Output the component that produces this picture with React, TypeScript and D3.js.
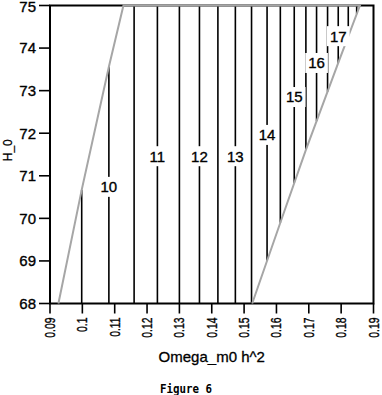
import React, { useEffect, useRef } from 'react';
import * as d3 from 'd3';

// contour positions (Omega_m0 h^2), half-unit steps from 9.5 to 18
const contourX = [0.0998, 0.1082, 0.116, 0.1232, 0.13, 0.1362, 0.1419, 0.1473, 0.1523, 0.1571, 0.1612, 0.1655, 0.1691, 0.1724, 0.1758, 0.1791, 0.1822, 0.1848];
const labelValues = [10, 11, 12, 13, 14, 15, 16, 17];
const labelX = [0.1082, 0.1232, 0.1362, 0.1473, 0.1571, 0.1655, 0.1724, 0.1791];
const labelH = [70.74, 71.46, 71.46, 71.46, 71.96, 72.85, 73.65, 74.28];

// allowed region edges
const leftEdgeX = [0.0926, 0.0998, 0.1082, 0.1127];
const leftEdgeH = [68, 70.67, 73.56, 75];
const rightEdgeX = [0.1525, 0.1613, 0.1691, 0.1791, 0.1858];
const rightEdgeH = [68, 69.92, 71.61, 73.65, 75];

const xTicks = [0.09, 0.1, 0.11, 0.12, 0.13, 0.14, 0.15, 0.16, 0.17, 0.18, 0.19];
const yTicks = [68, 69, 70, 71, 72, 73, 74, 75];

const FONT = 'Liberation Sans, Arial, sans-serif';

export default function App() {
    const svgRef = useRef<SVGSVGElement>(null);

    useEffect(() => {
        const svg = d3.select(svgRef.current);
        svg.selectAll('*').remove();

        const x = d3.scaleLinear().domain([0.09, 0.19]).range([50, 373.5]);
        const y = d3.scaleLinear().domain([68, 75]).range([303.5, 5.5]);

        // piecewise edges
        const leftTop = d3.scaleLinear().domain(leftEdgeX).range(leftEdgeH);
        const rightBottom = d3.scaleLinear().domain(rightEdgeX).range(rightEdgeH);

        // frame
        svg.append('rect')
            .attr('x', x(0.09)).attr('y', y(75))
            .attr('width', x(0.19) - x(0.09)).attr('height', y(68) - y(75))
            .attr('fill', 'none').attr('stroke', '#000').attr('stroke-width', 2);

        // y ticks
        const yAxis = svg.append('g');
        yTicks.forEach((t) => {
            yAxis.append('line')
                .attr('x1', x(0.09) - 11).attr('x2', x(0.09))
                .attr('y1', y(t)).attr('y2', y(t))
                .attr('stroke', '#000').attr('stroke-width', 1.6);
            yAxis.append('text')
                .attr('x', x(0.09) - 14).attr('y', y(t))
                .attr('dy', t === 75 ? '0.42em' : '0.36em')
                .attr('text-anchor', 'end')
                .style('font-family', FONT).style('font-size', '15px')
                .style('stroke', '#000').style('stroke-width', 0.35)
                .text(String(t));
        });

        // x ticks
        const xAxis = svg.append('g');
        xTicks.forEach((t) => {
            xAxis.append('line')
                .attr('x1', x(t)).attr('x2', x(t))
                .attr('y1', y(68)).attr('y2', y(68) + 10)
                .attr('stroke', '#000').attr('stroke-width', 1.6);
            xAxis.append('text')
                .attr('transform', `translate(${x(t)},${y(68) + 14}) rotate(-90) scale(0.74,1)`)
                .attr('dy', '0.36em')
                .attr('text-anchor', 'end')
                .style('font-family', FONT).style('font-size', '14px')
                .style('stroke', '#000').style('stroke-width', 0.35)
                .text(String(+t.toFixed(2)));
        });

        // contour lines clipped to region
        contourX.forEach((cx) => {
            const top = cx < leftEdgeX[leftEdgeX.length - 1] ? leftTop(cx) : 75;
            const bottom = cx > rightEdgeX[0] ? rightBottom(cx) : 68;
            svg.append('line')
                .attr('x1', x(cx)).attr('x2', x(cx))
                .attr('y1', y(top)).attr('y2', y(bottom))
                .attr('stroke', '#000').attr('stroke-width', 1.6);
        });

        // region boundary (left edge, top, right edge)
        const edge: [number, number][] = [
            ...leftEdgeX.map((d, i) => [d, leftEdgeH[i]] as [number, number]),
            ...rightEdgeX.map((d, i) => [d, rightEdgeH[i]] as [number, number]).reverse()
        ];
        svg.append('path')
            .datum(edge)
            .attr('fill', 'none')
            .attr('stroke', '#a6a6a6')
            .attr('stroke-width', 2)
            .attr('d', d3.line<[number, number]>().x((d) => x(d[0])).y((d) => y(d[1])));

        // contour labels
        labelValues.forEach((v, i) => {
            const g = svg.append('g');
            const bg = g.append('rect').attr('fill', '#fff');
            const txt = g.append('text')
                .attr('x', x(labelX[i])).attr('y', y(labelH[i]))
                .attr('dy', '0.36em')
                .attr('text-anchor', 'middle')
                .style('font-family', FONT).style('font-size', '15px')
                .style('stroke', '#000').style('stroke-width', 0.35)
                .text(String(v));
            const bb = (txt.node() as SVGTextElement).getBBox();
            bg.attr('x', bb.x - 3).attr('y', y(labelH[i]) - 10)
                .attr('width', bb.width + 6).attr('height', 20);
        });

        // axis titles
        svg.append('text')
            .attr('x', (x(0.09) + x(0.19)) / 2).attr('y', 362)
            .attr('text-anchor', 'middle')
            .style('font-family', FONT).style('font-size', '15px')
            .style('stroke', '#000').style('stroke-width', 0.3)
            .text('Omega_m0 h^2');

        svg.append('text')
            .attr('transform', `translate(12,${y(71.6)}) rotate(-90)`)
            .attr('text-anchor', 'middle')
            .style('font-family', FONT).style('font-size', '12px')
            .style('stroke', '#000').style('stroke-width', 0.25)
            .text('H_0');

        svg.append('text')
            .attr('x', 160).attr('y', 393)
            .attr('textLength', 52).attr('lengthAdjust', 'spacingAndGlyphs')
            .style('font-family', 'DejaVu Sans Mono, monospace').style('font-size', '13px')
            .style('font-weight', 'bold')
            .text('Figure 6');
    }, []);

    return (
        <svg
            ref={svgRef}
            width={382}
            height={395}
            style={{ position: 'absolute', left: 0, top: 0, background: '#fff' }}
        />
    );
}
